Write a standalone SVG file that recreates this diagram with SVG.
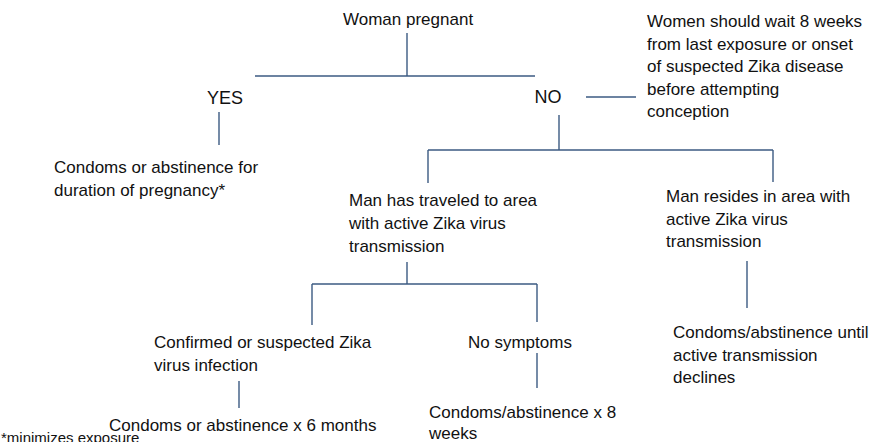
<svg xmlns="http://www.w3.org/2000/svg" width="875" height="442" viewBox="0 0 875 442">
<style>
text{font-family:"Liberation Sans",Arial,sans-serif;font-size:17px;fill:#111}
.big{font-size:18px}
.small{font-size:15px}
#connectors line{stroke:#3b5a82;stroke-width:1.4;fill:none}
</style>
<rect width="875" height="442" fill="#fff"/>
<g id="connectors">
<line x1="407" y1="33" x2="407" y2="76"/>
<line x1="255" y1="76" x2="535" y2="76"/>
<line x1="219" y1="112" x2="219" y2="145"/>
<line x1="586" y1="97" x2="636" y2="97"/>
<line x1="559" y1="115" x2="559" y2="150"/>
<line x1="428" y1="150" x2="773" y2="150"/>
<line x1="428" y1="150" x2="428" y2="183"/>
<line x1="773" y1="150" x2="773" y2="182"/>
<line x1="407" y1="262" x2="407" y2="284"/>
<line x1="312" y1="284" x2="537" y2="284"/>
<line x1="312" y1="284" x2="312" y2="325"/>
<line x1="537" y1="284" x2="537" y2="322"/>
<line x1="747" y1="261" x2="747" y2="308"/>
<line x1="239" y1="381" x2="239" y2="408"/>
<line x1="537" y1="353" x2="537" y2="388"/>
</g>
<g id="pregnant"><text x="343" y="25">Woman pregnant</text></g>
<g id="yes"><text class="big" x="225" y="104" text-anchor="middle">YES</text></g>
<g id="no"><text class="big" x="548" y="103" text-anchor="middle">NO</text></g>
<g id="wait"><text x="647" y="27">Women should wait 8 weeks</text><text x="647" y="49.6">from last exposure or onset</text><text x="647" y="72.2">of suspected Zika disease</text><text x="647" y="94.8">before attempting</text><text x="647" y="117.4">conception</text></g>
<g id="yes-advice"><text x="54" y="173">Condoms or abstinence for</text><text x="54" y="195.5">duration of pregnancy*</text></g>
<g id="traveled"><text x="349" y="206">Man has traveled to area</text><text x="349" y="229">with active Zika virus</text><text x="349" y="252">transmission</text></g>
<g id="resides"><text x="666" y="202">Man resides in area with</text><text x="666" y="224.7">active Zika virus</text><text x="666" y="247.4">transmission</text></g>
<g id="confirmed"><text x="154" y="348">Confirmed or suspected Zika</text><text x="154" y="371">virus infection</text></g>
<g id="nosymptoms"><text x="468" y="348">No symptoms</text></g>
<g id="six-months"><text x="109" y="431">Condoms or abstinence x 6 months</text></g>
<g id="eight-weeks"><text x="429" y="418">Condoms/abstinence x 8</text><text x="429" y="439">weeks</text></g>
<g id="until"><text x="673" y="338">Condoms/abstinence until</text><text x="673" y="360.7">active transmission</text><text x="673" y="383.4">declines</text></g>
<g id="footnote"><text class="small" x="1" y="443">*minimizes exposure</text></g>
</svg>
